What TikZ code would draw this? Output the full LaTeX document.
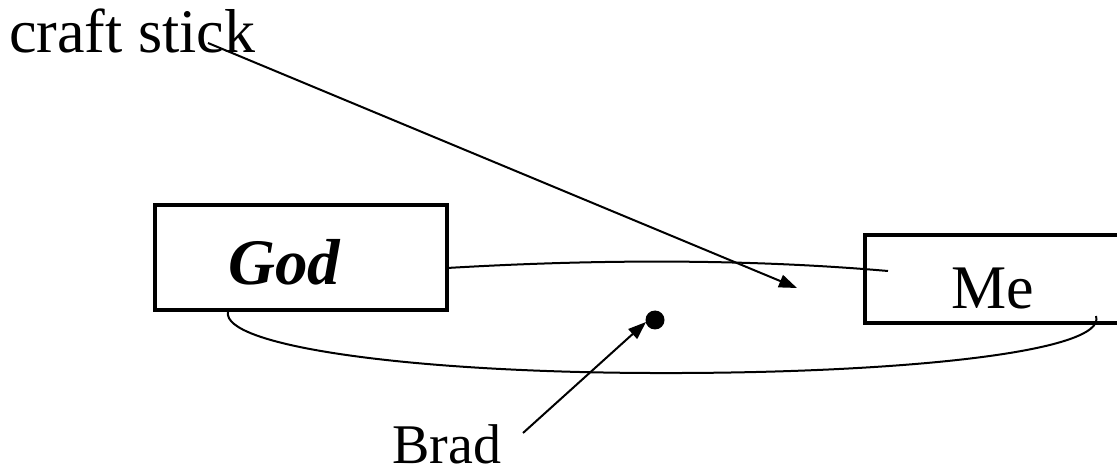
\documentclass[tikz,border=0pt]{standalone}
\usepackage{fontspec}
\setmainfont{Liberation Serif}
\usetikzlibrary{arrows.meta}
\begin{document}
\begin{tikzpicture}[x=1pt,y=-1pt,
  boxstyle/.style={draw,line width=4pt,inner sep=0pt,anchor=north west},
  txt/.style={inner sep=0pt,anchor=base west},
  thinline/.style={line width=2pt},
  arr/.style={line width=2pt,-{Triangle[length=18pt,width=13pt]}}]
\useasboundingbox (0,0) rectangle (1117,470);
% boxes
\node[boxstyle,minimum width=292pt,minimum height=105pt] (god) at (153,203) {};
\node[boxstyle,minimum width=262pt,minimum height=88pt] (me) at (863,233) {};
% texts
\node[txt,font=\fontsize{65}{70}\selectfont\bfseries\itshape] (godtext) at (228,285) {God};
\node[txt,font=\fontsize{62}{66}\selectfont] (metext) at (951,309) {Me};
\node[txt,font=\fontsize{62}{66}\selectfont] (craft) at (9,53) {craft stick};
\node[txt,font=\fontsize{56}{60}\selectfont] (brad) at (392,463) {Brad};
% dot
\fill (655,320) circle (9.5pt) coordinate (dot);
% coordinates
\coordinate (cs) at (208,43);
\coordinate (cstip) at (797,288);
\coordinate (bs) at (523,433);
\coordinate (btip) at (646,322);
\coordinate (ustart) at (447,268);
\coordinate (uend) at (888,271);
\coordinate (lstart) at (228,312);
\coordinate (lmid) at (650,373);
\coordinate (lend) at (1096,316);
% curves
\draw[thinline] (ustart) .. controls (600,259) and (750,259) .. (uend);
\draw[thinline] (lstart) .. controls (222,345) and (400,372) .. (lmid)
  .. controls (900,374) and (1108,352) .. (lend);
% arrows
\draw[arr] (cs) -- (cstip);
\draw[arr] (bs) -- (btip);
\end{tikzpicture}
\end{document}
